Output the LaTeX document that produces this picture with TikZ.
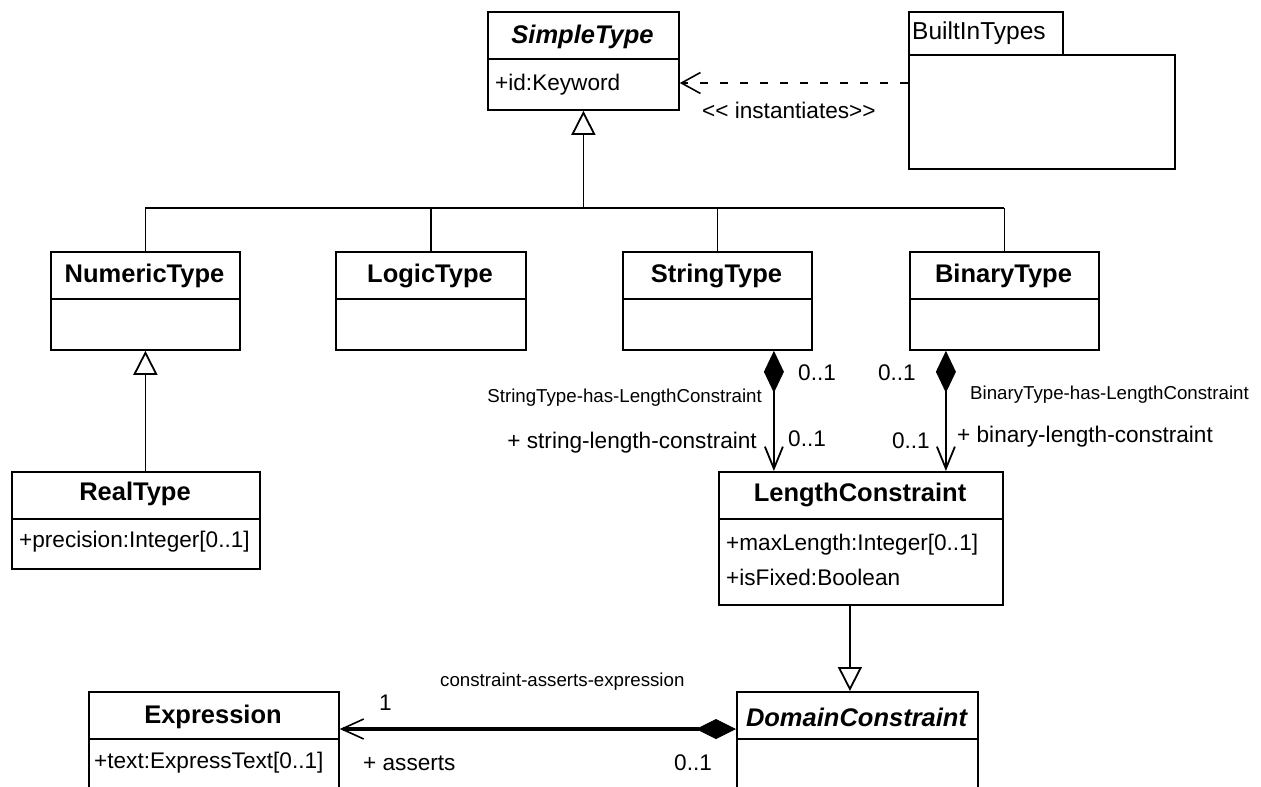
\documentclass[tikz,border=0pt]{standalone}
\usepackage{fontspec}
\setmainfont{Liberation Sans}
\usetikzlibrary{arrows.meta}
\begin{document}
\begin{tikzpicture}[x=1pt,y=-1pt,
  cls/.style={draw, line width=1.8pt, rectangle, anchor=north west, inner sep=0pt},
  ttl/.style={font=\fontsize{25.5}{30}\selectfont\bfseries, inner sep=0pt},
  ttli/.style={font=\fontsize{25.5}{30}\selectfont\bfseries\itshape, inner sep=0pt},
  attr/.style={font=\fontsize{22.6}{27}\selectfont, inner sep=0pt, anchor=west},
  lbl/.style={font=\fontsize{22.6}{27}\selectfont, inner sep=0pt},
  sml/.style={font=\fontsize{18.7}{22}\selectfont, inner sep=0pt},
  pkgtxt/.style={font=\fontsize{24.5}{29}\selectfont, inner sep=0pt},
  divl/.style={line width=1.5pt},
  conn/.style={line width=1.8pt},
  gen/.style={line width=1.8pt, -{Triangle[open, length=24pt, width=24pt, fill=white]}},
  dep/.style={line width=1.6pt, dash pattern=on 8pt off 12pt, -{Straight Barb[length=19pt, width=21pt]}},
  comp/.style={line width=1.8pt, {Diamond[length=42pt, width=20pt]}-{Straight Barb[length=22pt, width=18pt]}},
  comptwo/.style={line width=3.3pt, {Diamond[length=40pt, width=20pt, line width=1pt]}-{Straight Barb[length=22pt, width=20pt, line width=1.6pt]}}
]
\useasboundingbox (0,0) rectangle (1261,787);
\clip (0,0) rectangle (1261,787);
\fill[white] (0,0) rectangle (1261,787);

% SimpleType
\node[cls, minimum width=191pt, minimum height=98pt] (simple) at (487,11) {};
\draw[divl] (simple.west |- 0,59) -- (simple.east |- 0,59);
\node[ttli] (simpleT) at (582.5,37) {SimpleType};
\node[attr] (simpleA) at (495,85) {+id:Keyword};

% BuiltInTypes package
\node[cls, line width=1.5pt, minimum width=154pt, minimum height=43pt] (pkgtab) at (908,11) {};
\node[cls, minimum width=266pt, minimum height=114pt] (pkgbody) at (908,54) {};
\node[pkgtxt, anchor=west] (pkgT) at (912,33) {BuiltInTypes};

% instantiates dependency
\draw[dep] (pkgbody.west |- 0,83) -- (simple.east |- 0,83);
\node[lbl, anchor=west] (inst) at (702,110) {<{}< instantiates>{}>};

% generalization tree
\coordinate (busS) at (simple.south |- 0,208);
\draw[gen] (busS) -- (simple.south);

\node[cls, minimum width=189pt, minimum height=98pt] (numeric) at (50,251) {};
\node[cls, minimum width=190pt, minimum height=98pt] (logic) at (335,251) {};
\node[cls, minimum width=189pt, minimum height=98pt] (string) at (622,251) {};
\node[cls, minimum width=189pt, minimum height=98pt] (binary) at (909,251) {};
\foreach \n in {numeric,logic,string,binary}{
  \draw[divl] (\n.west |- 0,299) -- (\n.east |- 0,299);
  \draw[conn] (\n.north |- busS) -- (\n.north);
}
\draw[conn] (numeric.north |- busS) -- (binary.north |- busS);
\node[ttl] (numericT) at (144.5,276) {NumericType};
\node[ttl] (logicT) at (430,276) {LogicType};
\node[ttl] (stringT) at (716.5,276) {StringType};
\node[ttl] (binaryT) at (1003.5,276) {BinaryType};

% RealType
\node[cls, minimum width=248pt, minimum height=97pt] (real) at (11,471) {};
\draw[divl] (real.west |- 0,519) -- (real.east |- 0,519);
\node[ttl] (realT) at (135,494) {RealType};
\node[attr] (realA) at (19,542) {+precision:Integer[0..1]};
\draw[gen] (numeric.south |- real.north) -- (numeric.south);

% LengthConstraint
\node[cls, minimum width=284pt, minimum height=133pt] (lc) at (718,471) {};
\draw[divl] (lc.west |- 0,519) -- (lc.east |- 0,519);
\node[ttl] (lcT) at (860,495) {LengthConstraint};
\node[attr] (lcA) at (726,545) {+maxLength:Integer[0..1]};
\node[attr] (lcB) at (726,577) {+isFixed:Boolean};

% compositions to LengthConstraint
\coordinate (strA) at ([xshift=56.5pt]string.south);
\coordinate (strB) at (strA |- lc.north);
\draw[comp] (strA) -- (strB);
\coordinate (binA) at ([xshift=-58.5pt]binary.south);
\coordinate (binB) at (binA |- lc.north);
\draw[comp] (binA) -- (binB);

\node[lbl, anchor=west] (m1) at (798,373) {0..1};
\node[sml, anchor=east] (a1) at (762,398) {StringType-has-LengthConstraint};
\node[lbl, anchor=east] (r1) at (757,443) {+ string-length-constraint};
\node[lbl, anchor=west] (m2) at (788,439) {0..1};
\node[lbl, anchor=east] (m3) at (916,373) {0..1};
\node[sml, anchor=west] (a2) at (970,395) {BinaryType-has-LengthConstraint};
\node[lbl, anchor=east] (m4) at (930,441) {0..1};
\node[lbl, anchor=west] (r2) at (957,437) {+ binary-length-constraint};

% DomainConstraint
\node[cls, minimum width=241pt, minimum height=130pt] (dc) at (736,691) {};
\draw[divl] (dc.west |- 0,739) -- (dc.east |- 0,739);
\node[ttli] (dcT) at (856.5,717) {DomainConstraint};
\coordinate (lcG) at ([xshift=-11pt]lc.south);
\draw[gen] (lcG) -- (lcG |- dc.north);

% Expression
\node[cls, minimum width=250pt, minimum height=130pt] (expr) at (88,691) {};
\draw[divl] (expr.west |- 0,739) -- (expr.east |- 0,739);
\node[ttl] (exprT) at (213,717) {Expression};
\node[attr] (exprA) at (94,763) {+text:ExpressText[0..1]};

% composition constraint-asserts-expression
\coordinate (dcC) at ([yshift=-38pt]dc.north west);
\coordinate (exC) at (dcC -| expr.east);
\draw[comptwo] (dcC) -- (exC);
\node[sml, anchor=west] (a3) at (440,682) {constraint-asserts-expression};
\node[lbl, anchor=west] (m5) at (379,703) {1};
\node[lbl, anchor=west] (r3) at (363,763) {+ asserts};
\node[lbl, anchor=west] (m6) at (674,763) {0..1};
\end{tikzpicture}
\end{document}
